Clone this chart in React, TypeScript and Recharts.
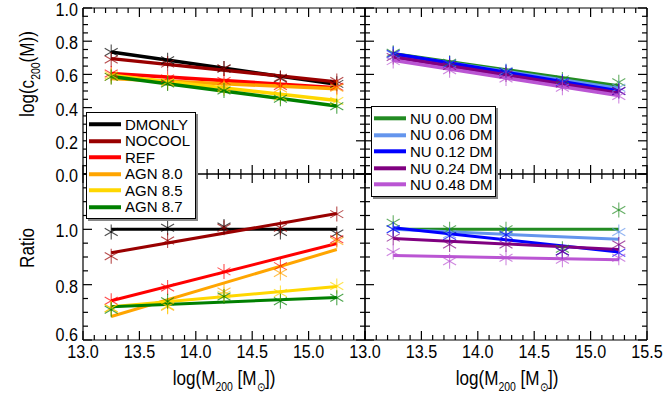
import React from "react";
import { ComposedChart, Line, Scatter, XAxis, YAxis } from "recharts";

// halo mass bins (log M200) and fit end points
const massBins = [13.25, 13.75, 14.25, 14.75, 15.25];
const fitEnds = [13.25, 15.25];

const xMajor = [13.0, 13.5, 14.0, 14.5, 15.0, 15.5];
const concMajor = [0.0, 0.2, 0.4, 0.6, 0.8, 1.0];
const ratioMajor = [0.6, 0.8, 1.0, 1.2];

// hydro runs
const hydroNames = ["DMONLY", "NOCOOL", "REF", "AGN 8.0", "AGN 8.5", "AGN 8.7"];
const hydroColors = ["#000000", "#990000", "#ff0000", "#ffa500", "#ffd700", "#008000"];

const concDmonly = [0.735, 0.685, 0.635, 0.575, 0.543];
const concNocool = [0.69, 0.665, 0.635, 0.58, 0.56];
const concRef = [0.605, 0.575, 0.56, 0.53, 0.525];
const concAgn80 = [0.585, 0.55, 0.525, 0.515, 0.52];
const concAgn85 = [0.595, 0.555, 0.515, 0.465, 0.44];
const concAgn87 = [0.585, 0.545, 0.503, 0.453, 0.408];

const fitConcDmonly = [0.735, 0.54];
const fitConcNocool = [0.695, 0.555];
const fitConcRef = [0.605, 0.52];
const fitConcAgn80 = [0.575, 0.513];
const fitConcAgn85 = [0.595, 0.443];
const fitConcAgn87 = [0.588, 0.41];

const ratioDmonly = [0.99, 1.006, 1.01, 0.99, 0.985];
const ratioNocool = [0.903, 0.96, 1.006, 1.006, 1.055];
const ratioRef = [0.742, 0.79, 0.848, 0.867, 0.964];
const ratioAgn80 = [0.715, 0.72, 0.775, 0.842, 0.958];
const ratioAgn85 = [0.715, 0.723, 0.764, 0.77, 0.795];
const ratioAgn87 = [0.709, 0.74, 0.757, 0.74, 0.753];

const fitRatioDmonly = [1.0, 1.0];
const fitRatioNocool = [0.915, 1.057];
const fitRatioRef = [0.742, 0.949];
const fitRatioAgn80 = [0.685, 0.927];
const fitRatioAgn85 = [0.72, 0.793];
const fitRatioAgn87 = [0.72, 0.754];

// neutrino runs
const nuNames = ["NU 0.00 DM", "NU 0.06 DM", "NU 0.12 DM", "NU 0.24 DM", "NU 0.48 DM"];
const nuColors = ["#228b22", "#6495ed", "#0000ff", "#800080", "#ba55d3"];

const concNu000 = [0.73, 0.67, 0.615, 0.57, 0.553];
const concNu006 = [0.72, 0.665, 0.62, 0.555, 0.52];
const concNu012 = [0.725, 0.665, 0.615, 0.555, 0.5];
const concNu024 = [0.705, 0.65, 0.6, 0.545, 0.5];
const concNu048 = [0.68, 0.625, 0.575, 0.52, 0.47];

const fitConcNu000 = [0.725, 0.53];
const fitConcNu006 = [0.72, 0.515];
const fitConcNu012 = [0.725, 0.5];
const fitConcNu024 = [0.705, 0.488];
const fitConcNu048 = [0.685, 0.473];

const ratioNu000 = [1.024, 1.0, 1.0, 0.93, 1.07];
const ratioNu006 = [1.0, 0.982, 0.98, 0.92, 0.99];
const ratioNu012 = [1.0, 0.976, 0.98, 0.92, 0.915];
const ratioNu024 = [0.97, 0.945, 0.945, 0.92, 0.945];
const ratioNu048 = [0.918, 0.885, 0.897, 0.89, 0.897];

const fitRatioNu000 = [1.0, 1.0];
const fitRatioNu006 = [1.0, 0.964];
const fitRatioNu012 = [1.006, 0.918];
const fitRatioNu024 = [0.967, 0.927];
const fitRatioNu048 = [0.905, 0.89];

const FONT = "'Liberation Sans', Arial, Helvetica, sans-serif";

const pts = (xs: number[], ys: number[]) => xs.map((m, i) => ({ m, v: ys[i] }));

const stepTicks = (lo: number, hi: number, step: number) => {
  const out: number[] = [];
  const n = Math.round((hi - lo) / step);
  for (let i = 0; i <= n; i++) out.push(Math.round((lo + i * step) * 1000) / 1000);
  return out;
};

const isIn = (v: number, list: number[]) => list.some((t) => Math.abs(t - v) < 1e-6);

const AxisTick = (props: any) => {
  const { x, y, payload, side, majors, labels, lowest } = props;
  const v = payload.value;
  const len = isIn(v, majors) ? 9 : 5;
  const showLabel = labels && isIn(v, labels);
  let line = null;
  let text = null;
  if (side === "bottom") {
    line = <line x1={x} x2={x} y1={y} y2={y - len} stroke="#000" strokeWidth={1.2} />;
    if (showLabel)
      text = (
        <text x={0} y={0} textAnchor="middle" fontSize={17} fontFamily={FONT} fill="#000"
          transform={`translate(${x},${y + 18}) scale(0.95,1.1)`}>
          {v.toFixed(1)}
        </text>
      );
  } else if (side === "top") {
    line = <line x1={x} x2={x} y1={y} y2={y + len} stroke="#000" strokeWidth={1.2} />;
  } else if (side === "left") {
    line = <line x1={x} x2={x + len} y1={y} y2={y} stroke="#000" strokeWidth={1.2} />;
    // the bottom-most label sits a little higher so it clears the x labels
    const dy = lowest != null && Math.abs(v - lowest) < 1e-6 ? 1 : 8;
    if (showLabel)
      text = (
        <text x={0} y={0} textAnchor="end" fontSize={17} fontFamily={FONT} fill="#000"
          transform={`translate(${x - 5},${y + dy}) scale(0.95,1.1)`}>
          {v.toFixed(1)}
        </text>
      );
  } else {
    line = <line x1={x} x2={x - len} y1={y} y2={y} stroke="#000" strokeWidth={1.2} />;
  }
  return (
    <g>
      {line}
      {text}
    </g>
  );
};

const Asterisk = (props: any) => {
  const { cx, cy, color } = props;
  if (cx == null || cy == null) return null;
  const r = 7.5;
  const dx = r * Math.cos(Math.PI / 6);
  const dy = r * Math.sin(Math.PI / 6);
  return (
    <g stroke={color} strokeWidth={1.1} strokeOpacity={0.7}>
      <line x1={cx} y1={cy - r} x2={cx} y2={cy + r} />
      <line x1={cx - dx} y1={cy - dy} x2={cx + dx} y2={cy + dy} />
      <line x1={cx - dx} y1={cy + dy} x2={cx + dx} y2={cy - dy} />
    </g>
  );
};

type PanelProps = {
  left: number;
  top: number;
  yDomain: [number, number];
  yMajor: number[];
  yLabels: number[] | null;
  xLabels: number[] | null;
  points: number[][];
  fits: number[][];
  colors: string[];
  width: number;
  lowest?: number;
};

const W = 664;
const H = 399;
const PW = 282;
const PH = 166;

const Panel = ({ left, top, yDomain, yMajor, yLabels, xLabels, points, fits, colors, width, lowest }: PanelProps) => {
  const xTicks = stepTicks(13, 15.5, 0.1);
  const yTicks = stepTicks(yDomain[0], yDomain[1], 0.05);
  const margin = { left: left - 1, top: top - 1, right: W - left - PW - 1, bottom: H - top - PH - 1 };
  return (
    <div style={{ position: "absolute", left: 0, top: 0 }}>
      <ComposedChart width={W} height={H} margin={margin}>
        <XAxis xAxisId="b" type="number" dataKey="m" orientation="bottom" domain={[13, 15.5]} ticks={xTicks}
          interval={0} height={1} tickSize={0} tickMargin={0} allowDataOverflow stroke="#000" strokeWidth={1.2}
          tick={(p: any) => <AxisTick {...p} side="bottom" majors={xMajor} labels={xLabels} />} />
        <XAxis xAxisId="t" type="number" dataKey="m" orientation="top" domain={[13, 15.5]} ticks={xTicks}
          interval={0} height={1} tickSize={0} tickMargin={0} allowDataOverflow stroke="#000" strokeWidth={1.2}
          tick={(p: any) => <AxisTick {...p} side="top" majors={xMajor} labels={null} />} />
        <YAxis yAxisId="l" type="number" dataKey="v" orientation="left" domain={yDomain} ticks={yTicks}
          interval={0} width={1} tickSize={0} tickMargin={0} allowDataOverflow stroke="#000" strokeWidth={1.2}
          tick={(p: any) => <AxisTick {...p} side="left" majors={yMajor} labels={yLabels} lowest={lowest} />} />
        <YAxis yAxisId="r" type="number" dataKey="v" orientation="right" domain={yDomain} ticks={yTicks}
          interval={0} width={1} tickSize={0} tickMargin={0} allowDataOverflow stroke="#000" strokeWidth={1.2}
          tick={(p: any) => <AxisTick {...p} side="right" majors={yMajor} labels={null} />} />
        {fits.map((f, i) => (
          <Line key={"f" + i} xAxisId="b" yAxisId="l" data={pts(fitEnds, f)} dataKey="v" stroke={colors[i]}
            strokeWidth={width} dot={false} isAnimationActive={false} />
        ))}
        {points.map((p, i) => (
          <Scatter key={"s" + i} xAxisId="b" yAxisId="l" data={pts(massBins, p)} fill={colors[i]}
            isAnimationActive={false} shape={(sp: any) => <Asterisk {...sp} color={colors[i]} />} />
        ))}
      </ComposedChart>
    </div>
  );
};

const LegendBox = ({ left, top, width, names, colors, rowH }: any) => (
  <div style={{ position: "absolute", left, top, width, height: names.length * rowH + 6,
    background: "#fff", border: "1px solid #000", boxShadow: "2px 2px 0 #888", fontFamily: FONT }}>
    {names.map((n: string, i: number) => (
      <div key={n} style={{ position: "absolute", left: 1, top: 3 + i * rowH, height: rowH, display: "flex", alignItems: "center" }}>
        <svg width={34} height={rowH}>
          <line x1={1} x2={33} y1={rowH / 2} y2={rowH / 2} stroke={colors[i]} strokeWidth={4} />
        </svg>
        <span style={{ fontSize: 15, marginLeft: 3, lineHeight: 1, whiteSpace: "nowrap" }}>{n}</span>
      </div>
    ))}
  </div>
);

const Titles = () => (
  <svg width={W} height={H} style={{ position: "absolute", left: 0, top: 0 }} fontFamily={FONT} fill="#000">
    <text transform="translate(34,74) rotate(-90) scale(0.95,1.1)" textAnchor="middle" fontSize={18}>
      log(c<tspan fontSize={11} dy={5}>200</tspan><tspan dy={-5}>(M))</tspan>
    </text>
    <text transform="translate(34,248) rotate(-90) scale(0.95,1.1)" textAnchor="middle" fontSize={18}>Ratio</text>
    {[224, 507].map((cx) => (
      <text key={cx} transform={`translate(${cx},385) scale(0.95,1.1)`} textAnchor="middle" fontSize={18}>
        log(M<tspan fontSize={11} dy={5}>200</tspan><tspan dy={-5}> [M</tspan>
        <tspan fontSize={11} dy={5}>⊙</tspan><tspan dy={-5}>])</tspan>
      </text>
    ))}
  </svg>
);

export default function App() {
  const hydroConc = [concDmonly, concNocool, concRef, concAgn80, concAgn85, concAgn87];
  const hydroFitConc = [fitConcDmonly, fitConcNocool, fitConcRef, fitConcAgn80, fitConcAgn85, fitConcAgn87];
  const hydroRatio = [ratioDmonly, ratioNocool, ratioRef, ratioAgn80, ratioAgn85, ratioAgn87];
  const hydroFitRatio = [fitRatioDmonly, fitRatioNocool, fitRatioRef, fitRatioAgn80, fitRatioAgn85, fitRatioAgn87];
  const nuConc = [concNu000, concNu006, concNu012, concNu024, concNu048];
  const nuFitConc = [fitConcNu000, fitConcNu006, fitConcNu012, fitConcNu024, fitConcNu048];
  const nuRatio = [ratioNu000, ratioNu006, ratioNu012, ratioNu024, ratioNu048];
  const nuFitRatio = [fitRatioNu000, fitRatioNu006, fitRatioNu012, fitRatioNu024, fitRatioNu048];

  return (
    <div style={{ position: "absolute", left: 0, top: 0, width: W, height: H, background: "#fff", overflow: "hidden" }}>
      <style>{".recharts-surface{overflow:visible}"}</style>
      <Panel left={83} top={174} yDomain={[0.6, 1.2]} yMajor={ratioMajor} yLabels={[0.6, 0.8, 1.0]} lowest={0.6}
        xLabels={[13.0, 13.5, 14.0, 14.5, 15.0]} points={hydroRatio} fits={hydroFitRatio} colors={hydroColors} width={3} />
      <Panel left={365} top={174} yDomain={[0.6, 1.2]} yMajor={ratioMajor} yLabels={null}
        xLabels={xMajor} points={nuRatio} fits={nuFitRatio} colors={nuColors} width={3} />
      <Panel left={83} top={8} yDomain={[0, 1]} yMajor={concMajor} yLabels={concMajor}
        xLabels={null} points={hydroConc} fits={hydroFitConc} colors={hydroColors} width={3.5} />
      <Panel left={365} top={8} yDomain={[0, 1]} yMajor={concMajor} yLabels={null}
        xLabels={null} points={nuConc} fits={nuFitConc} colors={nuColors} width={3.5} />
      <LegendBox left={86} top={112} width={108} names={hydroNames} colors={hydroColors} rowH={16.5} />
      <LegendBox left={371} top={106} width={123} names={nuNames} colors={nuColors} rowH={16.6} />
      <Titles />
    </div>
  );
}
